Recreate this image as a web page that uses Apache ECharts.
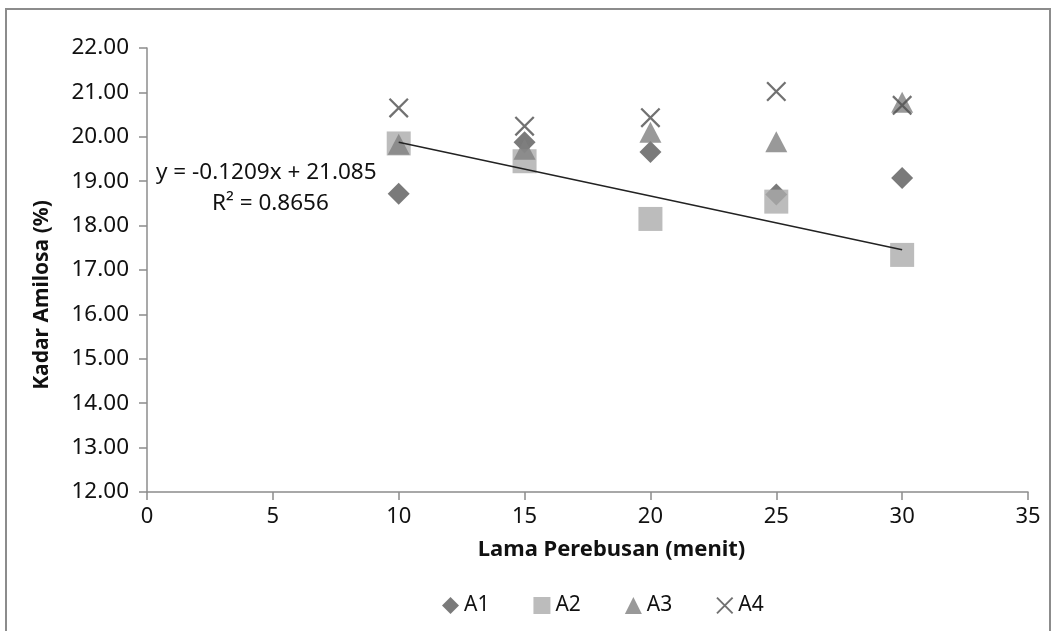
<!DOCTYPE html>
<html>
<head>
<meta charset="utf-8">
<script src="https://cdn.jsdelivr.net/npm/echarts@6/dist/echarts.min.js"></script>
<style>html,body{margin:0;padding:0;background:#fff;}#c{width:1053px;height:631px;}</style>
</head>
<body>
<div id="c"></div>
<script>
// Data
const xValues = [10, 15, 20, 25, 30];
const A1 = [18.72, 19.88, 19.66, 18.70, 19.07];
const A2 = [19.85, 19.45, 18.15, 18.54, 17.34];
const A3 = [19.83, 19.72, 20.10, 19.89, 20.78];
const A4 = [20.65, 20.24, 20.43, 21.02, 20.71];
const seriesNames = ['A1', 'A2', 'A3', 'A4'];
const trendSlope = -0.1209;
const trendIntercept = 21.085;
const trendXRange = [10, 30];
const equationLabel = 'y = -0.1209x + 21.085';
const r2Label = 'R² = 0.8656';
const xTitle = 'Lama Perebusan (menit)';
const yTitle = 'Kadar Amilosa (%)';

const font = '"Noto Sans", "Open Sans", sans-serif';
const pair = (ys) => xValues.map((x, i) => [x, ys[i]]);
const xPath = 'path://M0,0.8L0.8,0L10,9.2L9.2,10Z M9.2,0L10,0.8L0.8,10L0,9.2Z';

const chart = echarts.init(document.getElementById('c'));
chart.setOption({
  backgroundColor: '#fff',
  animation: false,
  grid: { left: 147, right: 25, top: 48, bottom: 139 },
  xAxis: {
    type: 'value', min: 0, max: 35, interval: 5,
    name: xTitle, nameLocation: 'middle', nameGap: 47,
    nameTextStyle: { fontFamily: font, fontSize: 22, fontWeight: 'bold', color: '#111',
      padding: [0, 0, 0, 48] },
    axisLine: { lineStyle: { color: '#8c8c8c', width: 1.5 } },
    axisTick: { show: true, length: 8, lineStyle: { color: '#8c8c8c', width: 1.5 } },
    axisLabel: { fontFamily: font, fontSize: 22, color: '#111', margin: 14 },
    splitLine: { show: false }
  },
  yAxis: {
    type: 'value', min: 12, max: 22, interval: 1,
    name: yTitle, nameLocation: 'middle', nameGap: 94,
    nameTextStyle: { fontFamily: font, fontSize: 21, fontWeight: 'bold', color: '#111',
      padding: [0, 50, 0, 0] },
    axisLine: { show: true, lineStyle: { color: '#8c8c8c', width: 1.5 } },
    axisTick: { show: true, length: 8, lineStyle: { color: '#8c8c8c', width: 1.5 } },
    axisLabel: { fontFamily: font, fontSize: 22.5, color: '#111', margin: 18,
      formatter: v => v.toFixed(2) },
    splitLine: { show: false }
  },
  legend: {
    data: seriesNames,
    left: 437, top: 590,
    itemGap: 44, itemWidth: 17, itemHeight: 17,
    textStyle: { fontFamily: font, fontSize: 21, color: '#111' }
  },
  graphic: [
    { type: 'rect', shape: { x: 6, y: 9, width: 1044, height: 640 },
      style: { fill: 'none', stroke: '#8c8c8c', lineWidth: 2 }, silent: true },
    { type: 'text', left: 156, top: 161,
      style: { text: equationLabel, font: '22.5px ' + font, fill: '#111' } },
    { type: 'text', left: 212, top: 192,
      style: { text: r2Label, font: '22.5px ' + font, fill: '#111' } }
  ],
  series: [
    { name: 'A1', type: 'scatter', data: pair(A1), symbol: 'diamond', symbolSize: 22,
      itemStyle: { color: '#595959' }, z: 2 },
    { name: 'A2', type: 'scatter', data: pair(A2), symbol: 'rect', symbolSize: 24,
      itemStyle: { color: '#ababab' }, z: 3 },
    { name: 'A3', type: 'scatter', data: pair(A3), symbol: 'triangle', symbolSize: [22, 21],
      itemStyle: { color: '#7f7f7f' }, z: 4 },
    { name: 'A4', type: 'scatter', data: pair(A4), symbol: xPath, symbolSize: 20,
      itemStyle: { color: '#4d4d4d' }, z: 5 },
    { name: 'Trend', type: 'line', z: 6, symbol: 'none', silent: true,
      data: trendXRange.map(x => [x, trendSlope * x + trendIntercept]),
      lineStyle: { color: '#222', width: 1.5 } }
  ]
});
</script>
</body>
</html>
